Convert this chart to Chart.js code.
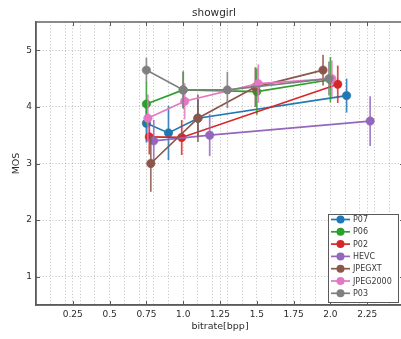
<!DOCTYPE html>
<html>
<head>
<meta charset="utf-8">
<script src="https://cdn.jsdelivr.net/npm/chart.js@4/dist/chart.umd.min.js"></script>
<style>
  html, body { margin: 0; padding: 0; background: #fff; overflow: hidden; }
  #wrap { width: 410px; height: 339px; }
</style>
</head>
<body>
<div id="wrap"><canvas id="c" width="410" height="339"></canvas></div>
<script>
// Codecs compared on the "showgirl" sequence
const codecs = ['P07', 'P06', 'P02', 'HEVC', 'JPEGXT', 'JPEG2000', 'P03'];
const codecColors = ['#1f77b4', '#2ca02c', '#d62728', '#9467bd', '#8c564b', '#e377c2', '#7f7f7f'];

// bitrate [bpp], mean opinion score and its error half-width, per codec
const p07Bitrate = [0.75, 0.90, 1.10, 2.11];
const p07Mos     = [3.71, 3.54, 3.80, 4.20];
const p07Err     = [0.34, 0.48, 0.33, 0.30];

const p06Bitrate = [0.75, 1.00, 1.50, 2.00];
const p06Mos     = [4.05, 4.30, 4.27, 4.48];
const p06Err     = [0.39, 0.33, 0.41, 0.40];

const p02Bitrate = [0.77, 0.99, 2.05];
const p02Mos     = [3.47, 3.46, 4.40];
const p02Err     = [0.31, 0.31, 0.33];

const hevcBitrate = [0.80, 1.18, 2.27];
const hevcMos     = [3.40, 3.50, 3.75];
const hevcErr     = [0.37, 0.37, 0.44];

const jpegxtBitrate = [0.78, 1.10, 1.49, 1.95];
const jpegxtMos     = [3.00, 3.80, 4.35, 4.65];
const jpegxtErr     = [0.50, 0.42, 0.35, 0.27];

const j2kBitrate = [0.76, 1.01, 1.51, 2.01];
const j2kMos     = [3.80, 4.10, 4.41, 4.50];
const j2kErr     = [0.42, 0.32, 0.34, 0.32];

const p03Bitrate = [0.75, 1.00, 1.30, 1.99];
const p03Mos     = [4.65, 4.30, 4.30, 4.50];
const p03Err     = [0.22, 0.32, 0.32, 0.30];

// axis ticks
const xLabelTicks = [0.25, 0.5, 0.75, 1.0, 1.25, 1.5, 1.75, 2.0, 2.25];
const xMinorTicks = [0.1, 0.2, 0.3, 0.4, 0.6, 0.7, 0.8, 0.9, 1.1, 1.2, 1.3, 1.4, 1.6, 1.7, 1.8, 1.9, 2.1, 2.2, 2.3, 2.4];
const yTicks = [1, 2, 3, 4, 5];

const seriesBitrate = [p07Bitrate, p06Bitrate, p02Bitrate, hevcBitrate, jpegxtBitrate, j2kBitrate, p03Bitrate];
const seriesMos = [p07Mos, p06Mos, p02Mos, hevcMos, jpegxtMos, j2kMos, p03Mos];
const seriesErr = [p07Err, p06Err, p02Err, hevcErr, jpegxtErr, j2kErr, p03Err];

const FONT = 'DejaVu Sans';
const TEXT = '#2b2b2b';
const AXIS = '#5a5a5a';
const GRID = 'rgba(0,0,0,0.32)';

const datasets = codecs.map((name, i) => ({
  label: name,
  data: seriesBitrate[i].map((b, k) => ({ x: b, y: seriesMos[i][k] })),
  err: seriesErr[i],
  showLine: true,
  borderColor: codecColors[i],
  backgroundColor: codecColors[i],
  borderWidth: 1.7,
  pointRadius: 4.2,
  pointHoverRadius: 4.2,
  pointBorderWidth: 0.6,
  pointBorderColor: codecColors[i],
  pointBackgroundColor: codecColors[i],
  order: -i
}));

// vertical error bars, drawn under each series' line and markers
const errorBars = {
  id: 'errorBars',
  beforeDatasetDraw(chart, args) {
    const ds = chart.data.datasets[args.index];
    const ys = chart.scales.y;
    const ctx = chart.ctx;
    ctx.save();
    ctx.strokeStyle = ds.borderColor;
    ctx.globalAlpha = 0.85;
    ctx.lineWidth = 1.7;
    args.meta.data.forEach((pt, k) => {
      const v = ds.data[k];
      const e = ds.err[k];
      ctx.beginPath();
      ctx.moveTo(pt.x, ys.getPixelForValue(v.y + e));
      ctx.lineTo(pt.x, ys.getPixelForValue(v.y - e));
      ctx.stroke();
    });
    ctx.restore();
  }
};

// frame, inward tick marks, title and the boxed legend
const frameAndLegend = {
  id: 'frameAndLegend',
  afterDraw(chart) {
    const ctx = chart.ctx;
    const a = chart.chartArea;
    const xs = chart.scales.x, ys = chart.scales.y;
    ctx.save();
    ctx.strokeStyle = AXIS;
    ctx.lineWidth = 1;
    // inward major ticks
    xLabelTicks.forEach(v => {
      const px = Math.round(xs.getPixelForValue(v)) + 0.5;
      ctx.beginPath();
      ctx.moveTo(px, a.bottom); ctx.lineTo(px, a.bottom - 4);
      ctx.moveTo(px, a.top); ctx.lineTo(px, a.top + 4);
      ctx.stroke();
    });
    yTicks.forEach(v => {
      const py = Math.round(ys.getPixelForValue(v)) + 0.5;
      ctx.beginPath();
      ctx.moveTo(a.left, py); ctx.lineTo(a.left + 4, py);
      ctx.moveTo(a.right, py); ctx.lineTo(a.right - 4, py);
      ctx.stroke();
    });
    ctx.lineWidth = 1.4;
    ctx.strokeRect(a.left, a.top, a.right - a.left, a.bottom - a.top);

    // title
    ctx.fillStyle = TEXT;
    ctx.font = '10.5px "' + FONT + '"';
    ctx.textAlign = 'center';
    ctx.textBaseline = 'middle';
    ctx.fillText('showgirl', (a.left + a.right) / 2 - 6, 13);

    // legend
    const bx = 328, by = 214, bw = 70, bh = 88;
    ctx.fillStyle = '#fff';
    ctx.fillRect(bx, by, bw, bh);
    ctx.strokeStyle = AXIS;
    ctx.lineWidth = 1;
    ctx.strokeRect(bx + 0.5, by + 0.5, bw, bh);
    ctx.font = '8px "' + FONT + '"';
    ctx.textAlign = 'left';
    codecs.forEach((name, i) => {
      const y = by + 5.5 + i * 12.3;
      ctx.strokeStyle = codecColors[i];
      ctx.fillStyle = codecColors[i];
      ctx.lineWidth = 1.7;
      ctx.beginPath();
      ctx.moveTo(bx + 3, y); ctx.lineTo(bx + 22, y);
      ctx.stroke();
      ctx.beginPath();
      ctx.arc(bx + 12.5, y, 4, 0, Math.PI * 2);
      ctx.fill();
      ctx.fillStyle = '#3a3a3a';
      ctx.fillText(name, bx + 25, y + 0.5);
    });
    ctx.restore();
  }
};

new Chart(document.getElementById('c'), {
  type: 'scatter',
  data: { datasets },
  options: {
    responsive: false,
    animation: false,
    devicePixelRatio: 1,
    layout: { padding: { top: 22, right: 6, bottom: 0, left: 0 } },
    plugins: {
      legend: { display: false },
      title: { display: false },
      tooltip: { enabled: false }
    },
    scales: {
      x: {
        type: 'linear',
        min: 0,
        max: 2.5,
        afterBuildTicks(scale) {
          scale.ticks = xMinorTicks.concat(xLabelTicks).sort((p, q) => p - q).map(v => ({ value: v }));
        },
        afterFit(scale) { scale.height = 34; },
        ticks: {
          autoSkip: false,
          maxRotation: 0,
          padding: 4,
          color: TEXT,
          font: { family: FONT, size: 9 },
          callback(v) {
            const i = xLabelTicks.findIndex(t => Math.abs(t - v) < 1e-9);
            if (i < 0) return '';
            const t = xLabelTicks[i];
            return Number.isInteger(t) ? t.toFixed(1) : String(t);
          }
        },
        grid: { color: GRID, lineWidth: 0.8, drawTicks: false },
        border: { display: true, color: AXIS, width: 1.4, dash: [1, 2.2] },
        title: {
          display: true,
          text: 'bitrate[bpp]',
          color: TEXT,
          font: { family: FONT, size: 9.5 },
          padding: { top: 0, bottom: 6.5 }
        }
      },
      y: {
        type: 'linear',
        min: 0.5,
        max: 5.5,
        afterBuildTicks(scale) {
          scale.ticks = yTicks.map(v => ({ value: v }));
        },
        afterFit(scale) { scale.width = 36; },
        ticks: {
          padding: 4,
          color: TEXT,
          font: { family: FONT, size: 9 },
          callback(v) { return String(v); }
        },
        grid: { color: GRID, lineWidth: 0.8, drawTicks: false },
        border: { display: true, color: AXIS, width: 1.4, dash: [1, 2.2] },
        title: {
          display: true,
          text: 'MOS',
          color: TEXT,
          font: { family: FONT, size: 9.5 },
          padding: { top: 10.5, bottom: 0 }
        }
      }
    }
  },
  plugins: [errorBars, frameAndLegend]
});
</script>
</body>
</html>
